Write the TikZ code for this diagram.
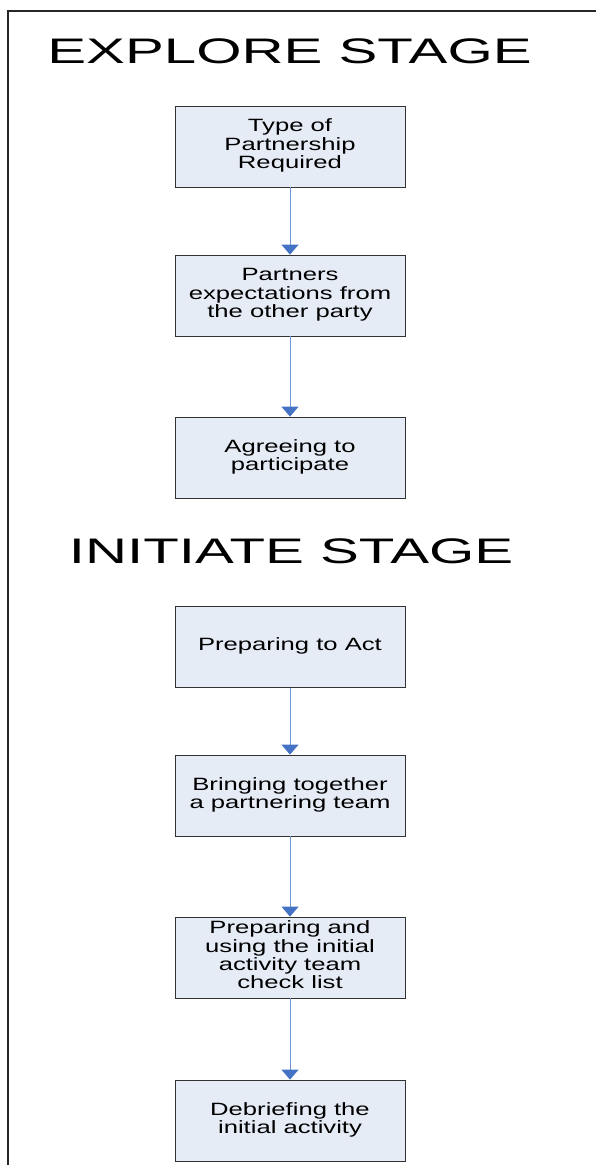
\documentclass[tikz,border=0pt]{standalone}
\usepackage{fontspec}
\setmainfont{Liberation Sans}
\usetikzlibrary{arrows.meta}
\definecolor{boxfill}{RGB}{230,236,246}
\definecolor{boxline}{RGB}{50,50,50}
\definecolor{arrowblue}{RGB}{110,150,210}
\definecolor{headblue}{RGB}{68,114,196}
\newcommand{\boxtext}[1]{\scalebox{1.44}[1]{\fontsize{17.8}{18}\selectfont\begin{tabular}{@{}c@{}}#1\end{tabular}}}
\newcommand{\titletext}[1]{\scalebox{1.64}[1]{\fontsize{35.5}{40}\selectfont #1}}
\begin{document}
\begin{tikzpicture}[x=1pt,y=-1pt,
  stepbox/.style={draw=boxline,line width=0.8pt,fill=boxfill,minimum width=230pt,minimum height=81pt,inner sep=0pt,anchor=center},
  flow/.style={draw=arrowblue,line width=0.9pt,-{Triangle[width=17pt,length=10pt,color=headblue,fill=headblue]}},
  stagetitle/.style={inner sep=0pt,anchor=center},
  frame/.style={line width=1.8pt,draw=black!85}]
\useasboundingbox (0,0) rectangle (596,1165);
\draw[frame] (8,1166) -- (8,11) -- (597,11);

\node[stagetitle] (t1) at (289.5,51) {\titletext{EXPLORE STAGE}};
\node[stagetitle] (t2) at (291,551) {\titletext{INITIATE STAGE}};

\node[stepbox] (b1) at (290,146.5) {\boxtext{Type of\\Partnership\\Required}};
\node[stepbox] (b2) at (290,295.5) {\boxtext{Partners\\expectations from\\the other party}};
\node[stepbox] (b3) at (290,457.5) {\boxtext{Agreeing to\\participate}};
\node[stepbox] (b4) at (290,647) {\boxtext{Preparing to Act}};
\node[stepbox] (b5) at (290,795.5) {\boxtext{Bringing together\\a partnering team}};
\node[stepbox] (b6) at (290,957.5) {\boxtext{Preparing and\\using the initial\\activity team\\check list}};
\node[stepbox] (b7) at (290,1120.5) {\boxtext{Debriefing the\\initial activity}};

\draw[flow] (b1) -- (b2);
\draw[flow] (b2) -- (b3);
\draw[flow] (b4) -- (b5);
\draw[flow] (b5) -- (b6);
\draw[flow] (b6) -- (b7);
\end{tikzpicture}
\end{document}
